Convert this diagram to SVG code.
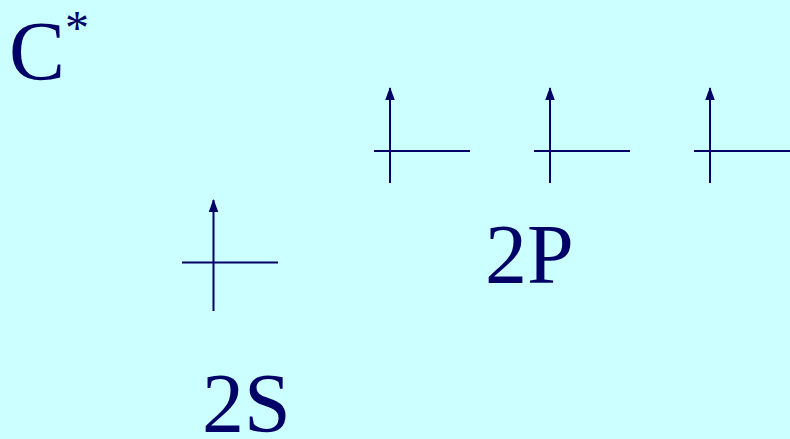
<svg xmlns="http://www.w3.org/2000/svg" width="790" height="439" viewBox="0 0 790 439">
<defs>
<style>
.t{font-family:"Liberation Serif","Times New Roman",serif;fill:#000066}
.ln{stroke:#000066;stroke-width:2;fill:none}
</style>
<marker id="ah" markerWidth="11" markerHeight="14" refX="5.5" refY="1" orient="0" markerUnits="userSpaceOnUse">
<path d="M5.5,0 L10.3,13 L0.7,13 Z" fill="#000066"/>
</marker>
</defs>
<rect width="790" height="439" fill="#CCFFFF"/>
<g id="title"><text class="t" x="9" y="80" font-size="84">C<tspan font-size="48" dy="-36">*</tspan></text></g>
<g id="connectors">
<line class="ln" x1="213.5" y1="311" x2="213.5" y2="200" marker-end="url(#ah)"/>
<line class="ln" x1="182" y1="262.5" x2="278" y2="262.5"/>
<line class="ln" x1="390" y1="183" x2="390" y2="88" marker-end="url(#ah)"/>
<line class="ln" x1="374" y1="151" x2="470" y2="151"/>
<line class="ln" x1="550" y1="183" x2="550" y2="88" marker-end="url(#ah)"/>
<line class="ln" x1="534" y1="151" x2="630" y2="151"/>
<line class="ln" x1="710" y1="183" x2="710" y2="88" marker-end="url(#ah)"/>
<line class="ln" x1="694" y1="151" x2="790" y2="151"/>
</g>
<g id="label-2P"><text class="t" x="485" y="283" font-size="84">2P</text></g>
<g id="label-2S"><text class="t" x="202" y="432" font-size="84">2S</text></g>
</svg>
